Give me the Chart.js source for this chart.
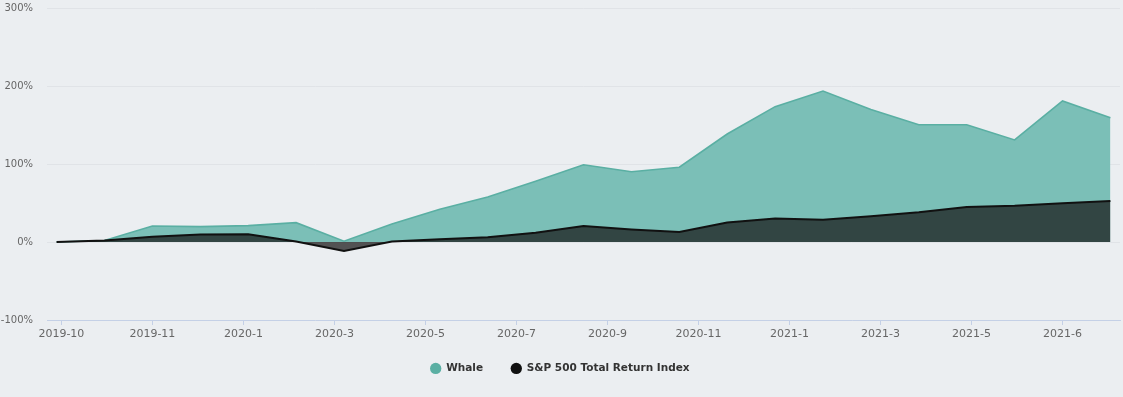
<!DOCTYPE html>
<html>
<head>
<meta charset="utf-8">
<script src="https://cdn.jsdelivr.net/npm/chart.js@4/dist/chart.umd.min.js"></script>
<style>
  html, body { margin: 0; padding: 0; background: #ebeef1; }
  #wrap { width: 1123px; height: 397px; position: relative; }
</style>
</head>
<body>
<div id="wrap"><canvas id="c"></canvas></div>
<script>
// Axis tick labels (bottom)
const tickLabels = ['2019-10','2019-11','2020-1','2020-3','2020-5','2020-7','2020-9','2020-11','2021-1','2021-3','2021-5','2021-6'];
// Cumulative return, % (23 samples, Oct 2019 – Jun 2021)
const whale = [0, 2, 20.5, 19.7, 21, 24.8, 1, 23, 42, 57.7, 78, 99, 90, 95.8, 138.5, 173.5, 193.6, 170, 150.4, 150.4, 130.8, 180.8, 159.4];
const sp500 = [0, 2, 6.8, 9.5, 10, 0.5, -11.5, 0.5, 3.5, 6, 12, 20.5, 16, 12.8, 25, 30, 28.6, 33, 38, 45, 46.6, 49.6, 52.6];
const seriesNames = ['Whale', 'S&P 500 Total Return Index'];

// sample index -> position on a fine time grid (labels every 19 steps, samples every 10)
const sampleX = i => 2 + 10 * i;
const tickX = k => 3 + 19 * k;

const bgPlugin = {
  id: 'bg',
  beforeDraw(chart) {
    const ctx = chart.ctx;
    ctx.save();
    ctx.fillStyle = '#ebeef1';
    ctx.fillRect(0, 0, chart.width, chart.height);
    ctx.restore();
  }
};
const legendNudge = {
  id: 'legendNudge',
  afterLayout(chart) {
    const l = chart.legend;
    if (l) { l.top -= 9; l.bottom -= 9; }
  }
};

new Chart(document.getElementById('c'), {
  type: 'line',
  data: {
    datasets: [
      {
        label: seriesNames[0],
        data: whale.map((v, i) => ({ x: sampleX(i), y: v })),
        borderColor: '#5aafa3',
        backgroundColor: '#7bbfb7',
        pointBackgroundColor: '#5aafa3',
        borderWidth: 1.6,
        fill: 'origin',
        pointRadius: 0,
        tension: 0,
        order: 1
      },
      {
        label: seriesNames[1],
        data: sp500.map((v, i) => ({ x: sampleX(i), y: v })),
        borderColor: '#111111',
        backgroundColor: 'rgba(22,22,22,0.72)',
        pointBackgroundColor: '#111111',
        borderWidth: 2,
        fill: 'origin',
        pointRadius: 0,
        tension: 0,
        order: 0
      }
    ]
  },
  options: {
    responsive: true,
    maintainAspectRatio: false,
    animation: false,
    layout: { padding: { top: 8, right: 3, bottom: 4.3, left: 0 } },
    plugins: {
      tooltip: { enabled: false },
      legend: {
        position: 'bottom',
        labels: {
          usePointStyle: true,
          pointStyle: 'circle',
          boxHeight: 8,
          padding: 28,
          color: '#333',
          font: { family: 'DejaVu Sans', size: 10.5, weight: 'bold' },
          generateLabels(chart) {
            return chart.data.datasets.map((ds, i) => ({
              text: ds.label,
              fillStyle: ds.pointBackgroundColor,
              strokeStyle: ds.pointBackgroundColor,
              lineWidth: 0,
              pointStyle: 'circle',
              fontColor: '#333',
              hidden: false,
              datasetIndex: i
            }));
          }
        }
      }
    },
    scales: {
      x: {
        type: 'linear',
        min: 0,
        max: 224,
        afterBuildTicks(scale) {
          scale.ticks = tickLabels.map((_, k) => ({ value: tickX(k) }));
        },
        ticks: {
          autoSkip: false,
          maxRotation: 0,
          color: '#666',
          padding: 3,
          font: { family: 'DejaVu Sans', size: 11 },
          callback: (v, idx) => tickLabels[idx]
        },
        grid: {
          drawOnChartArea: false,
          drawTicks: true,
          tickLength: 5,
          color: '#c4d0e6'
        },
        border: { display: true, color: '#c4d0e6', width: 1 }
      },
      y: {
        min: -100,
        max: 300,
        afterFit(scale) { scale.width = 47; },
        ticks: {
          stepSize: 100,
          color: '#666',
          padding: 0,
          font: { family: 'DejaVu Sans', size: 10 },
          callback: v => v + '%'
        },
        grid: { color: '#e0e3e7', drawTicks: true, tickLength: 14, tickColor: 'rgba(0,0,0,0)', lineWidth: 1 },
        border: { display: false }
      }
    }
  },
  plugins: [bgPlugin, legendNudge]
});
</script>
</body>
</html>
